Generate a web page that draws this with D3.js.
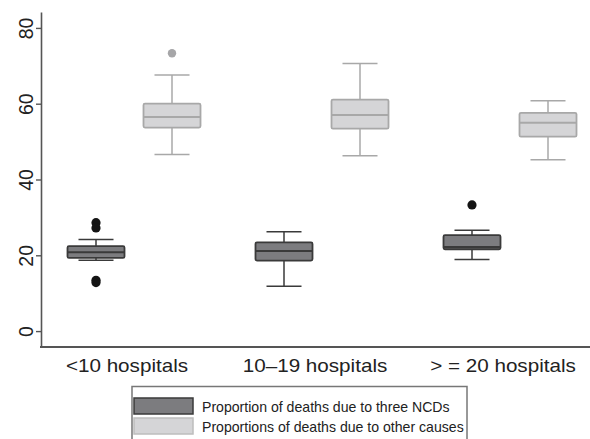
<!DOCTYPE html>
<html>
<head>
<meta charset="utf-8">
<script src="https://cdn.jsdelivr.net/npm/d3@7"></script>
<style>
  body { margin: 0; background: #fff; }
  svg { display: block; font-family: "Liberation Sans", Arial, sans-serif; }
</style>
</head>
<body>
<svg id="chart" width="590" height="439"></svg>
<script>
// categories and series
const categories = ["<10 hospitals", "10\u201319 hospitals", "> = 20 hospitals"];
const series = ["Proportion of deaths due to three NCDs", "Proportions of deaths due to other causes"];
const yTicks = [0, 20, 40, 60, 80];

// box stats per category: [lowerWhisker, q1, median, q3, upperWhisker]
const ncdStats = [
    [18.7, 19.3, 20.8, 22.4, 24.2],
    [11.8, 18.6, 21.1, 23.4, 26.2],
    [18.9, 21.6, 22.2, 25.3, 26.6]
];
const otherStats = [
    [46.6, 53.7, 56.5, 60.0, 67.6],
    [46.3, 53.4, 57.0, 61.1, 70.6],
    [45.2, 51.3, 55.0, 57.6, 60.8]
];
const ncdOutliers = [[28.6, 27.2, 13.4, 12.8], [], [33.3]];
const otherOutliers = [[73.3], [], []];

const styles = [
    {fill: "#7c7c7f", stroke: "#3a3a3a", dot: "#141414"},
    {fill: "#d5d5d7", stroke: "#a8a8a8", dot: "#a6a6a8"}
];

const svg = d3.select("#chart");

let x = d3.scaleBand()
    .domain(categories)
    .range([40, 604]);

let xSub = d3.scalePoint()
    .domain(series)
    .range([-38, 38]);

let y = d3.scaleLinear()
    .domain([-4.2, 84.2])
    .range([347, 12]);

const boxWidth = 57;
const capWidth = 35;

// build rows for drawing
let boxes = [];
categories.forEach((c, i) => {
    boxes.push({cat: c, s: 0, stats: ncdStats[i], out: ncdOutliers[i]});
    boxes.push({cat: c, s: 1, stats: otherStats[i], out: otherOutliers[i]});
});

let g = svg.append("g");

let bg = g.selectAll("g.box")
    .data(boxes).enter()
    .append("g")
    .attr("class", "box")
    .attr("transform", d => `translate(${x(d.cat) + x.bandwidth() / 2 + xSub(series[d.s])},0)`);

// whiskers
bg.append("line")
    .attr("y1", d => y(d.stats[0])).attr("y2", d => y(d.stats[1]))
    .attr("stroke", d => styles[d.s].stroke).attr("stroke-width", 1.5);
bg.append("line")
    .attr("y1", d => y(d.stats[3])).attr("y2", d => y(d.stats[4]))
    .attr("stroke", d => styles[d.s].stroke).attr("stroke-width", 1.5);
bg.selectAll("line.cap")
    .data(d => [d.stats[0], d.stats[4]].map(v => ({v: v, s: d.s})))
    .enter().append("line")
    .attr("class", "cap")
    .attr("x1", -capWidth / 2).attr("x2", capWidth / 2)
    .attr("y1", d => y(d.v)).attr("y2", d => y(d.v))
    .attr("stroke", d => styles[d.s].stroke).attr("stroke-width", 1.5);

// box
bg.append("rect")
    .attr("x", -boxWidth / 2)
    .attr("width", boxWidth)
    .attr("y", d => y(d.stats[3]))
    .attr("height", d => y(d.stats[1]) - y(d.stats[3]))
    .attr("rx", 1.5)
    .attr("fill", d => styles[d.s].fill)
    .attr("stroke", d => styles[d.s].stroke)
    .attr("stroke-width", 1.8);

// median
bg.append("line")
    .attr("x1", -boxWidth / 2).attr("x2", boxWidth / 2)
    .attr("y1", d => y(d.stats[2])).attr("y2", d => y(d.stats[2]))
    .attr("stroke", d => styles[d.s].stroke).attr("stroke-width", 2);

// outliers
bg.selectAll("circle")
    .data(d => d.out.map(v => ({v: v, s: d.s})))
    .enter().append("circle")
    .attr("r", d => d.s === 0 ? 4.6 : 4.2)
    .attr("cy", d => y(d.v))
    .attr("fill", d => styles[d.s].dot);

// y axis
let yAxis = d3.axisLeft(y).tickValues(yTicks).tickSize(5).tickSizeOuter(0);
let ya = svg.append("g")
    .attr("transform", "translate(41,0)")
    .call(yAxis);
ya.select(".domain").attr("stroke", "#555").attr("stroke-width", 1.6);
ya.selectAll(".tick line").attr("stroke", "#555").attr("stroke-width", 1.4);
ya.selectAll(".tick text")
    .attr("x", null).attr("dy", null)
    .attr("transform", "translate(-8,0) rotate(-90)")
    .attr("text-anchor", "middle")
    .attr("font-size", 19.5)
    .attr("font-family", "Liberation Sans, Arial, sans-serif")
    .attr("fill", "#222");

// x axis line
svg.append("line")
    .attr("x1", 40).attr("x2", 590)
    .attr("y1", 347).attr("y2", 347)
    .attr("stroke", "#555").attr("stroke-width", 1.8);

// x labels (sit a little left of the box pairs, as in the original)
svg.selectAll("text.xlab")
    .data(categories).enter()
    .append("text")
    .attr("class", "xlab")
    .attr("transform", d => `translate(${x(d) + x.bandwidth() / 2 - 7},372) scale(1.18,1)`)
    .attr("text-anchor", "middle")
    .attr("font-size", 17.5)
    .attr("fill", "#222")
    .text(d => d);

// legend
let leg = svg.append("g");
leg.append("rect")
    .attr("x", 132).attr("y", 386.5)
    .attr("width", 335).attr("height", 60)
    .attr("fill", "#fff")
    .attr("stroke", "#777").attr("stroke-width", 1.5);

let li = leg.selectAll("g.item")
    .data(series).enter()
    .append("g")
    .attr("class", "item")
    .attr("transform", (d, i) => `translate(0,${i * 20})`);

li.append("rect")
    .attr("x", 134).attr("y", 398)
    .attr("width", 59).attr("height", 16)
    .attr("fill", (d, i) => styles[i].fill)
    .attr("stroke", (d, i) => i === 0 ? "#3a3a3a" : "#bdbdbd")
    .attr("stroke-width", 1.5);

li.append("text")
    .attr("x", 202).attr("y", 412)
    .attr("font-size", 14.1)
    .attr("fill", "#222")
    .text(d => d);
</script>
</body>
</html>
